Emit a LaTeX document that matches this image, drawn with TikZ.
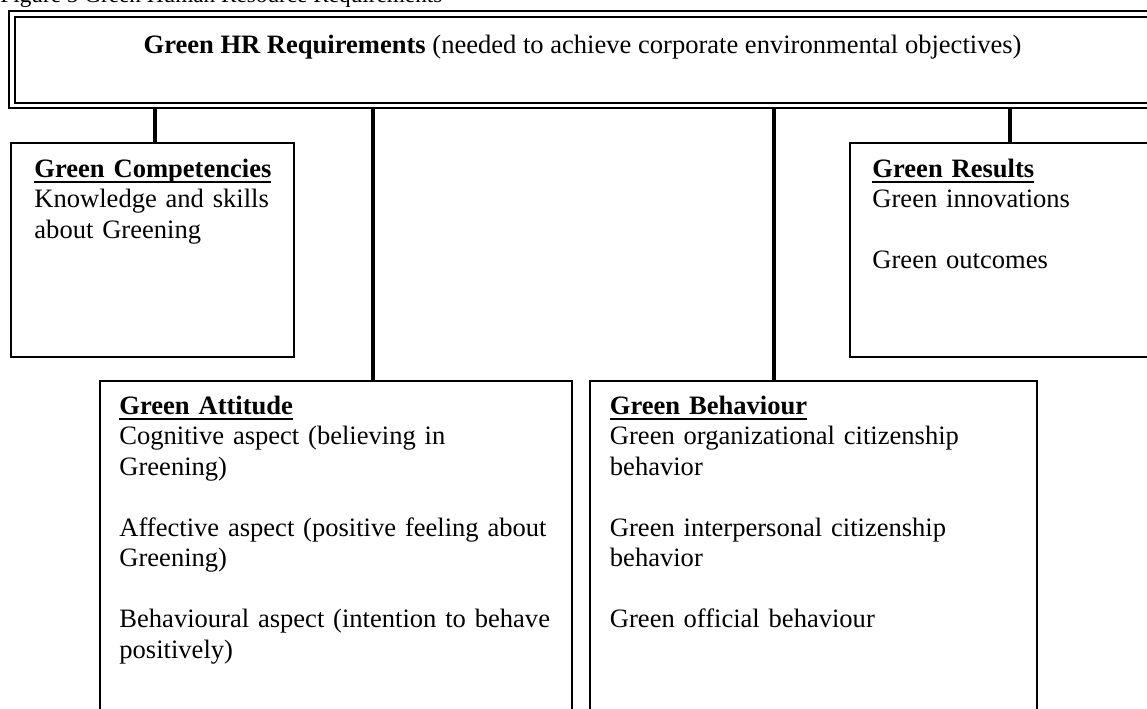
\documentclass[tikz,border=0pt]{standalone}
\usepackage{fontspec}
\setmainfont{Liberation Serif}
\usetikzlibrary{fit,backgrounds}

\newcommand{\ulhead}[1]{\setbox0\hbox{\bfseries #1}\rlap{\rule[-2.6pt]{\wd0}{0.8pt}}\box0}

\begin{document}
\begin{tikzpicture}[x=0.452pt,y=-0.452pt,
  box/.style={draw,line width=0.9pt,inner sep=0pt},
  txt/.style={anchor=base west,inner sep=0pt,align=left,text width=200pt,font=\fontsize{12}{13.8}\selectfont},
  link/.style={line width=1.8pt}]

\useasboundingbox (0,0) rectangle (1147,708);

\node[anchor=base west,inner sep=0pt,font=\fontsize{10.5}{12}\selectfont]
(cap)
at (0,2)
{Figure 5 Green Human Resource Requirements};

\node[draw,double,double distance=1.4pt,line width=0.9pt,inner sep=0pt,fit={(12,14) (1153,105.5)}]
(req)
{};

\node[anchor=base,inner sep=0pt,font=\fontsize{12}{13.8}\selectfont]
(title)
at (582.5,53)
{\textbf{Green HR Requirements} (needed to achieve corporate environmental objectives)};

\node[box,fit={(11,143) (294,357)}]
(comp)
{};

\node[txt]
(compT)
at ([shift={(24,35)}]comp.north west)
{\ulhead{Green Competencies}\\
Knowledge and skills\\
about Greening};

\node[box,fit={(850,143) (1170,357)}]
(res)
{};

\node[txt]
(resT)
at ([shift={(23,35)}]res.north west)
{\ulhead{Green Results}\\
Green innovations\\[13.8pt]
Green outcomes};

\node[box,fit={(100,381) (572,730)}]
(att)
{};

\node[txt]
(attT)
at ([shift={(20,34)}]att.north west)
{\ulhead{Green Attitude}\\
Cognitive aspect (believing in\\
Greening)\\[13.8pt]
Affective aspect (positive feeling about\\
Greening)\\[13.8pt]
Behavioural aspect (intention to behave\\
positively)};

\node[box,fit={(590,381) (1037,730)}]
(beh)
{};

\node[txt]
(behT)
at ([shift={(20.5,34)}]beh.north west)
{\ulhead{Green Behaviour}\\
Green organizational citizenship\\
behavior\\[13.8pt]
Green interpersonal citizenship\\
behavior\\[13.8pt]
Green official behaviour};

\begin{scope}[on background layer]
\draw[link] (req.south -| 155,0) -- (comp.north -| 155,0);
\draw[link] (req.south -| 373,0) -- (att.north -| 373,0);
\draw[link] (req.south -| 774,0) -- (beh.north -| 774,0);
\draw[link] (req.south -| 1010,0) -- (res.north -| 1010,0);
\end{scope}

\end{tikzpicture}
\end{document}
